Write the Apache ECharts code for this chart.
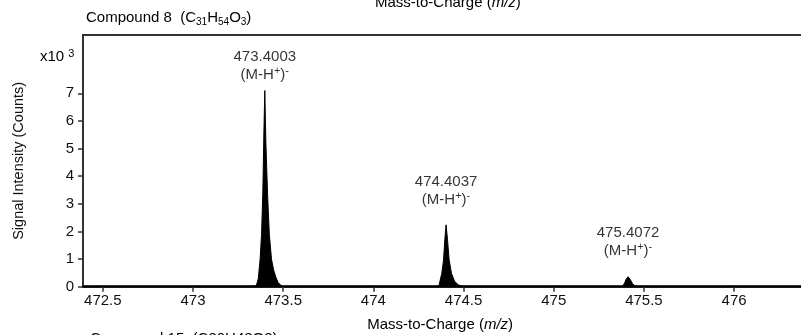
<!DOCTYPE html>
<html>
<head>
<meta charset="utf-8">
<script src="https://cdn.jsdelivr.net/npm/echarts@6/dist/echarts.min.js"></script>
<style>
  html, body { margin: 0; padding: 0; background: #fff; }
  #chart { width: 801px; height: 335px; }
</style>
</head>
<body>
<div id="chart"></div>
<script>
// profile spectrum, m/z and counts
var mz = [
    472.39,
    473.340, 473.352, 473.362, 473.372, 473.380, 473.387, 473.393, 473.398,
    473.404, 473.413, 473.423, 473.435, 473.447, 473.459, 473.472, 473.487, 473.500,
    474.355, 474.365, 474.379, 474.389, 474.396, 474.403,
    474.411, 474.420, 474.433, 474.450, 474.470, 474.497,
    475.378, 475.392, 475.402, 475.412, 475.422, 475.436, 475.450, 475.472,
    476.5
];
var counts = [
    0,
    0, 60, 300, 1000, 1900, 3400, 5600, 7100,
    5200, 3400, 1900, 1000, 600, 350, 150, 50, 0,
    0, 80, 480, 970, 1700, 2240,
    1700, 970, 480, 200, 70, 0,
    0, 120, 280, 360, 280, 120, 30, 0,
    0
];

// annotated peaks
var peakMz = [473.398, 474.403, 475.412];
var peakCounts = [7100, 2240, 360];
var peakNames = ['473.4003', '474.4037', '475.4072'];

// axis ticks
var xTicks = [472.5, 473, 473.5, 474, 474.5, 475, 475.5, 476];
var yTicks = [0, 1000, 2000, 3000, 4000, 5000, 6000, 7000];

var FONT = '"Liberation Sans", Arial, sans-serif';
var labelGap = [7, 16, 17];

var chart = echarts.init(document.getElementById('chart'));

var spectrum = [];
for (var i = 0; i < mz.length; i++) {
    spectrum.push([mz[i], counts[i]]);
}

var peaks = [];
for (var j = 0; j < peakMz.length; j++) {
    peaks.push({
        value: [peakMz[j], peakCounts[j]],
        name: peakNames[j],
        label: { distance: labelGap[j] }
    });
}

var option = {
    animation: false,
    backgroundColor: '#fff',
    textStyle: { fontFamily: FONT },
    grid: {
        left: 83,
        top: 35,
        bottom: 48.3,
        right: -23.3,
        show: true,
        borderColor: '#333',
        borderWidth: 2,
        outerBoundsMode: 'none'
    },
    title: [
        {
            // compound heading
            text: 'Compound 8  (C{sub|31}H{sub|54}O{sub|3})',
            left: 86,
            top: 9,
            padding: 0,
            textStyle: {
                fontFamily: FONT,
                fontSize: 15,
                fontWeight: 'normal',
                color: '#000',
                lineHeight: 18,
                rich: {
                    sub: { fontFamily: FONT, fontSize: 10, lineHeight: 10, verticalAlign: 'bottom', color: '#000' }
                }
            }
        },
        {
            text: 'x10 {sup|3}',
            left: 40,
            top: 48,
            padding: 0,
            textStyle: {
                fontFamily: FONT,
                fontSize: 15,
                fontWeight: 'normal',
                color: '#000',
                lineHeight: 18,
                rich: {
                    sup: { fontFamily: FONT, fontSize: 11, lineHeight: 11, verticalAlign: 'top', color: '#000' }
                }
            }
        }
    ],
    graphic: [
        {
            // axis title of the panel above, cut by the frame
            type: 'text',
            left: 375,
            top: -5,
            style: {
                text: 'Mass-to-Charge ({i|m/z})',
                font: '15px ' + FONT,
                fill: '#000',
                rich: { i: { fontStyle: 'italic', fontSize: 15, fontFamily: FONT } }
            }
        },
        {
            // heading of the panel below, cut by the frame
            type: 'text',
            left: 90,
            top: 331.5,
            style: {
                text: 'Compound 15  (C30H48O3)',
                font: '15px ' + FONT,
                fill: '#000'
            }
        }
    ],
    xAxis: {
        type: 'value',
        min: 472.39,
        max: 476.5,
        name: 'Mass-to-Charge ({i|m/z})',
        nameLocation: 'middle',
        nameGap: 29,
        nameTextStyle: {
            fontFamily: FONT,
            fontSize: 15,
            color: '#000',
            lineHeight: 18,
            padding: [0, 27, 0, 0],
            rich: { i: { fontStyle: 'italic', fontSize: 15, fontFamily: FONT, color: '#000' } }
        },
        splitLine: { show: false },
        axisLine: { onZero: false, lineStyle: { color: '#000', width: 2.5 } },
        axisTick: { customValues: xTicks, length: 5, lineStyle: { color: '#333', width: 1.5 } },
        axisLabel: {
            customValues: xTicks,
            margin: 7,
            fontFamily: FONT,
            fontSize: 15,
            color: '#111',
            formatter: function (v) { return String(v); }
        }
    },
    yAxis: {
        type: 'value',
        min: 0,
        max: 9110,
        name: 'Signal Intensity (Counts)',
        nameLocation: 'middle',
        nameRotate: 90,
        nameGap: 57,
        nameTextStyle: { fontFamily: FONT, fontSize: 14.5, color: '#111' },
        splitLine: { show: false },
        axisLine: { show: true, lineStyle: { color: '#333', width: 2 } },
        axisTick: { show: true, customValues: yTicks, length: 5, lineStyle: { color: '#333', width: 1.5 } },
        axisLabel: {
            customValues: yTicks,
            margin: 9,
            fontFamily: FONT,
            fontSize: 15,
            color: '#111',
            formatter: function (v) { return String(v / 1000); }
        }
    },
    series: [
        {
            name: 'spectrum',
            type: 'line',
            data: spectrum,
            symbol: 'none',
            lineStyle: { color: '#000', width: 1 },
            areaStyle: { color: '#000', opacity: 1 },
            z: 2
        },
        {
            name: 'peaks',
            type: 'scatter',
            data: peaks,
            symbolSize: 0,
            silent: true,
            z: 3,
            label: {
                show: true,
                position: 'top',
                align: 'center',
                formatter: function (p) {
                    return '{a|' + p.name + '}\n{a|(M-H}{sup|+}{a|)}{sup|-}';
                },
                rich: {
                    a: { fontFamily: FONT, fontSize: 15, lineHeight: 18, color: '#000', align: 'center' },
                    sup: { fontFamily: FONT, fontSize: 11, lineHeight: 11, verticalAlign: 'top', color: '#000' }
                }
            }
        }
    ]
};

option && chart.setOption(option);
</script>
</body>
</html>
